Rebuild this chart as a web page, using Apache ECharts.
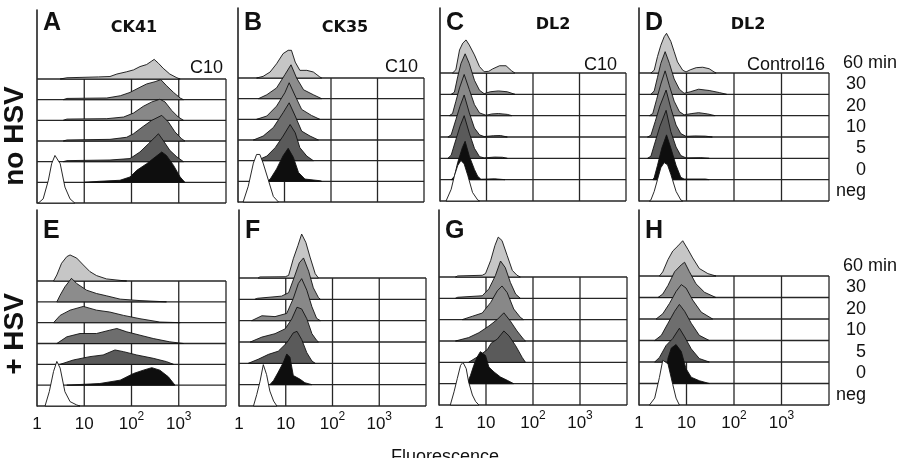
<!DOCTYPE html>
<html>
<head>
<meta charset="utf-8">
<title>Fluorescence histograms</title>
<script src="https://cdn.jsdelivr.net/npm/echarts@6/dist/echarts.min.js"></script>
<style>
  html, body { margin: 0; padding: 0; background: #fff; }
  #main { width: 904px; height: 458px; }
</style>
</head>
<body>
<div id="main"></div>
<script>
// labels
var rowLabels = ['60 min', '30', '20', '10', '5', '0', 'neg'];
var decadeTicks = [1, 10, 100, 1000, 10000];
var tickLabels = ['1', '10', '10{sup|2}', '10{sup|3}', ''];
var panelLetters = ['A', 'B', 'C', 'D', 'E', 'F', 'G', 'H'];
var panelTitles = ['CK41', 'CK35', 'DL2', 'DL2'];
var cornerLabels = ['C10', 'C10', 'C10', 'Control16'];
var sideLabels = ['no HSV', '+ HSV'];

// histograms: [fluorescence, height in row units], rows 60,30,20,10,5,0,neg
var a60 = [[3.1,0],[4.3,0.06],[20,0.1],[35,0.12],[49,0.24],[79,0.35],[110,0.44],[151,0.6],[209,0.7],[269,0.87],[302,0.95],[372,0.76],[468,0.52],[646,0.24],[912,0.06],[1070,0]];
var a30 = [[3.6,0],[4.3,0.06],[30,0.08],[58,0.19],[93,0.35],[151,0.6],[209,0.76],[316,0.87],[417,0.97],[550,0.68],[776,0.35],[1070,0.08],[1260,0]];
var a20 = [[3.6,0],[4.3,0.06],[30,0.08],[68,0.16],[110,0.35],[178,0.68],[269,0.89],[398,1.02],[513,0.89],[708,0.48],[977,0.16],[1260,0]];
var a10 = [[3.6,0],[4.3,0.05],[35,0.08],[79,0.18],[110,0.35],[178,0.71],[269,1.0],[437,1.24],[603,0.92],[832,0.44],[1148,0.11],[1350,0]];
var a5 = [[3.6,0],[4.3,0.05],[35,0.08],[93,0.15],[151,0.47],[229,0.87],[316,1.19],[372,1.35],[468,1.03],[646,0.55],[912,0.23],[1260,0]];
var a0 = [[10,0],[21,0.05],[57,0.1],[93,0.26],[129,0.58],[209,0.9],[316,1.22],[437,1.47],[550,1.3],[776,0.82],[1070,0.26],[1350,0]];
var aNeg = [[1.07,0],[1.35,0.2],[1.74,1.1],[2.04,1.9],[2.4,2.3],[3.1,1.9],[3.9,0.77],[5.0,0.2],[6.3,0]];

var b60 = [[2.51,0],[3.47,0.08],[4.9,0.29],[6.76,0.69],[9.33,1.18],[12,1.34],[14.1,1.34],[17,0.77],[21.4,0.37],[30.2,0.37],[41.7,0.29],[57.5,0.05],[63,0]];
var b30 = [[2.75,0],[4.17,0.19],[6.76,0.52],[10.2,1.16],[13.8,1.64],[18.2,1.0],[25.7,0.43],[41.7,0.19],[63,0]];
var b20 = [[2.51,0],[4.17,0.16],[6.76,0.64],[10.2,1.29],[12.6,1.77],[17,1.13],[23.4,0.48],[38,0.19],[57.5,0]];
var b10 = [[2.14,0],[3.47,0.19],[5.75,0.6],[9.33,1.32],[12.6,1.8],[17,1.16],[23.4,0.43],[35.5,0.19],[53.7,0]];
var b5 = [[2.51,0],[4.17,0.22],[6.31,0.63],[9.33,1.19],[13.2,1.75],[17,1.35],[21.4,0.63],[30.2,0.22],[41.7,0]];
var b0 = [[4.17,0],[4.9,0.1],[6.76,0.6],[9.33,1.24],[12,1.6],[15.5,1.16],[20,0.43],[27.5,0.11],[57.5,0.03],[63,0]];
var bNeg = [[1.29,0],[1.66,0.76],[2.14,1.88],[2.51,2.3],[2.95,2.3],[3.47,1.88],[4.47,1.08],[5.75,0.27],[7.41,0]];

var c60 = [[1.86,0],[2.19,0.15],[2.63,1.08],[3.09,1.4],[3.63,1.55],[4.27,1.31],[5.5,0.85],[7.08,0.3],[8.91,0.06],[11.2,0.08],[13.5,0.19],[19.1,0.34],[26.3,0.34],[34.7,0.1],[40.7,0]];
var c30 = [[1.74,0],[2.04,0.1],[2.4,0.82],[2.82,1.44],[3.47,1.9],[4.27,1.44],[5.5,0.66],[7.08,0.19],[8.91,0.03],[12,0.12],[18,0.16],[28,0.12],[41,0]];
var c20 = [[1.58,0],[1.86,0.1],[2.19,0.67],[2.63,1.3],[3.31,1.93],[4.27,1.22],[5.5,0.52],[7.08,0.13],[9.77,0.02],[13,0.08],[18,0.1],[28,0.06],[35,0]];
var c10 = [[1.48,0],[1.74,0.1],[2.19,0.81],[2.69,1.44],[3.31,1.97],[4.27,1.13],[5.5,0.42],[7.08,0.1],[8.91,0.02],[14,0.06],[20,0.07],[28,0]];
var c5 = [[1.48,0],[1.74,0.15],[2.19,0.87],[2.69,1.5],[3.31,2.0],[4.27,1.18],[5.5,0.47],[7.08,0.08],[8.91,0.02],[15,0.06],[22,0.05],[28,0]];
var c0 = [[1.74,0],[2.04,0.15],[2.4,0.8],[3.02,1.5],[3.47,1.8],[4.27,1.1],[5.5,0.48],[6.46,0.16],[7.59,0.02],[15,0.04],[25,0]];
var cNeg = [[1.35,0],[1.74,0.55],[2.04,1.18],[2.4,1.66],[2.82,1.9],[3.31,1.74],[3.98,1.18],[5.01,0.4],[6.46,0.05],[7.08,0]];

var d60 = [[1.78,0],[2.09,0.13],[2.45,0.77],[2.88,1.3],[3.39,1.7],[3.8,1.86],[4.68,1.48],[5.5,1.0],[6.46,0.52],[8.32,0.13],[9.77,0.05],[12,0.15],[16,0.25],[22,0.27],[30,0.2],[38,0.05],[42,0]];
var d30 = [[1.78,0],[2.09,0.16],[2.45,0.8],[2.88,1.45],[3.55,2.0],[4.37,1.45],[5.5,0.72],[7.08,0.24],[8.91,0.05],[12,0.12],[18,0.24],[30,0.18],[50,0.08],[70,0]];
var d20 = [[1.66,0],[1.95,0.1],[2.34,0.75],[2.88,1.48],[3.55,2.1],[4.37,1.4],[5.5,0.68],[7.08,0.19],[8.91,0.04],[13,0.1],[18,0.14],[28,0.08],[40,0]];
var d10 = [[1.51,0],[1.78,0.08],[2.19,0.72],[2.75,1.45],[3.72,2.2],[4.68,1.35],[6.03,0.56],[7.59,0.16],[9.77,0.03],[15,0.05],[25,0.04],[35,0]];
var d5 = [[1.51,0],[1.78,0.1],[2.19,0.77],[2.75,1.5],[3.72,2.25],[4.68,1.25],[6.03,0.53],[7.59,0.13],[9.77,0.02],[20,0.03],[30,0]];
var d0 = [[1.95,0],[2.09,0.1],[2.45,0.67],[3.02,1.48],[3.8,2.1],[4.68,1.48],[6.03,0.67],[7.59,0.11],[8.91,0.03],[25,0.03],[30,0]];
var dNeg = [[1.66,0],[1.78,0.05],[2.09,0.45],[2.45,1.0],[2.88,1.56],[3.39,1.8],[3.98,1.7],[4.68,1.25],[6.03,0.45],[7.59,0.05],[8.32,0]];

var e60 = [[2.24,0],[2.63,0.29],[3.31,0.85],[4.27,1.17],[5.01,1.25],[6.92,1.1],[9.55,0.77],[13.2,0.45],[18.2,0.26],[29.5,0.1],[57.5,0.03],[79,0]];
var e30 = [[2.63,0],[3.09,0.32],[3.89,0.72],[5.37,1.13],[6.92,0.88],[11.2,0.56],[18.2,0.4],[29.5,0.29],[57.5,0.13],[151,0.06],[550,0]];
var e20 = [[2.24,0],[3.09,0.35],[5.01,0.6],[9.55,0.78],[18.2,0.6],[34.7,0.51],[67.6,0.35],[151,0.19],[398,0.03],[1070,0]];
var e10 = [[2.63,0],[4.27,0.32],[8.13,0.48],[18.2,0.48],[34.7,0.64],[49,0.72],[79.4,0.56],[151,0.4],[288,0.24],[646,0.08],[1260,0]];
var e5 = [[3.09,0],[5.89,0.21],[13.2,0.37],[25.1,0.45],[44.7,0.69],[67.6,0.61],[129,0.45],[288,0.29],[550,0.13],[776,0]];
var e0 = [[4.27,0],[21.4,0.08],[57.5,0.24],[110,0.56],[178,0.72],[269,0.84],[398,0.72],[603,0.4],[832,0]];
var eNeg = [[1.48,0],[1.82,0.69],[2.24,1.66],[2.63,2.14],[3.09,1.82],[3.89,0.69],[5.01,0.21],[6.92,0.05],[8.13,0]];

var f60 = [[2.57,0],[2.8,0.05],[9.77,0.06],[11.5,0.12],[14.5,0.9],[18.2,1.52],[21.9,2.06],[26.9,1.67],[33.1,0.98],[42.7,0.2],[50.1,0]];
var f30 = [[2.19,0],[2.5,0.05],[8.13,0.15],[11.5,0.31],[15.5,1.09],[19.5,1.71],[24,1.94],[30.9,1.32],[38.9,0.54],[50.1,0.08],[55,0]];
var f20 = [[1.86,0],[3.09,0.23],[5.89,0.19],[10.5,0.34],[14.5,1.04],[18.6,1.74],[21.9,1.97],[28.2,1.43],[36.3,0.65],[45.7,0.11],[55,0]];
var f10 = [[1.74,0],[3.09,0.23],[5.89,0.39],[9.77,0.62],[13.5,1.09],[17.4,1.63],[21.9,1.55],[28.2,1.09],[36.3,0.39],[45.7,0.08],[50.1,0]];
var f5 = [[1.58,0],[2.57,0.19],[4.27,0.42],[6.92,0.57],[10.5,0.96],[14.5,1.43],[17.4,1.5],[21.9,1.12],[28.2,0.5],[36.3,0.11],[42.7,0]];
var f0 = [[4.57,0],[5.5,0.2],[6.92,0.59],[8.91,1.05],[10.5,1.44],[12.3,1.29],[14.5,0.43],[20.4,0.25],[25.7,0.09],[36.3,0]];
var fNeg = [[2.04,0],[2.4,0.54],[2.82,1.16],[3.31,1.94],[3.89,1.47],[4.57,0.7],[5.5,0.23],[6.46,0]];

var g60 = [[2.24,0],[2.5,0.05],[8.32,0.08],[9.77,0.16],[12.6,0.78],[15.5,1.48],[18.2,1.87],[21.9,1.71],[28.2,1.01],[36.3,0.31],[45.7,0.08],[53.7,0]];
var g30 = [[2.24,0],[2.5,0.05],[8.32,0.12],[11.5,0.44],[15.8,1.06],[20.4,1.75],[25.7,1.44],[33.1,0.74],[42.7,0.2],[53.7,0]];
var g20 = [[3.09,0],[5.13,0.16],[8.32,0.31],[12.6,0.81],[17.4,1.35],[21.9,1.58],[28.2,1.27],[38.9,0.5],[53.7,0.11],[63.1,0]];
var g10 = [[2.24,0],[4.27,0.16],[7.08,0.39],[11.5,0.7],[17.4,1.01],[24,1.32],[33.1,0.93],[45.7,0.47],[63.1,0.08],[69.2,0]];
var g5 = [[4.27,0],[7.08,0.3],[10.7,0.6],[12.9,0.9],[17.4,1.09],[24,1.47],[30.9,1.24],[42.7,0.78],[58.9,0.23],[69.2,0]];
var g0 = [[3.98,0],[4.68,0.39],[5.5,0.86],[6.46,1.24],[7.59,1.5],[9.77,1.32],[11.5,0.78],[14.8,0.55],[20.4,0.31],[28.2,0.16],[38.9,0]];
var gNeg = [[1.74,0],[2.09,0.62],[2.45,1.24],[2.88,1.86],[3.24,2.0],[3.8,1.7],[4.27,1.08],[5.13,0.47],[6.03,0.16],[7.08,0]];

var h60 = [[2.69,0],[3.16,0.19],[4.07,0.76],[5.13,1.16],[6.61,1.4],[8.32,1.64],[10.7,1.24],[13.5,0.84],[18.6,0.35],[28.2,0.11],[41.7,0]];
var h30 = [[2.51,0],[3.16,0.16],[4.07,0.56],[5.62,1.2],[7.76,1.52],[9.12,1.64],[11.5,1.2],[15.8,0.64],[24,0.24],[41.7,0]];
var h20 = [[2.29,0],[3.16,0.24],[4.37,0.72],[6.03,1.28],[7.76,1.6],[9.77,1.44],[13.5,0.88],[20.4,0.32],[35.5,0]];
var h10 = [[2.14,0],[2.95,0.24],[4.07,0.8],[5.62,1.36],[7.08,1.68],[9.12,1.36],[12.6,0.8],[18.6,0.24],[30.2,0]];
var h5 = [[2.14,0],[2.69,0.21],[3.72,0.77],[5.13,1.09],[7.08,1.57],[9.12,1.17],[12.6,0.61],[18.6,0.16],[30.2,0]];
var h0 = [[3.63,0],[4.07,1.17],[4.79,1.65],[6.03,1.81],[7.76,1.49],[9.77,0.69],[12.6,0.29],[18.6,0.13],[30.2,0]];
var hNeg = [[1.66,0],[2.14,0.32],[2.69,1.28],[3.16,2.08],[4.07,1.92],[5.13,0.96],[6.03,0.32],[7.08,0]];

var panels = [
    [a60, a30, a20, a10, a5, a0, aNeg],
    [b60, b30, b20, b10, b5, b0, bNeg],
    [c60, c30, c20, c10, c5, c0, cNeg],
    [d60, d30, d20, d10, d5, d0, dNeg],
    [e60, e30, e20, e10, e5, e0, eNeg],
    [f60, f30, f20, f10, f5, f0, fNeg],
    [g60, g30, g20, g10, g5, g0, gNeg],
    [h60, h30, h20, h10, h5, h0, hNeg]
];

// panel boxes in px: left, right, top of box, bottom of box, top of left line
var layout = [
    [37, 226, 79, 203, 10], [238, 424, 78, 202, 8], [440, 626, 73, 201, 8], [639, 829, 73, 201, 8],
    [37, 226, 281, 406, 210], [239, 426, 278, 406, 210], [439, 627, 277, 405, 210], [639, 829, 276, 405, 210]
];
var fillColors = ['#c6c6c6', '#8c8c8c', '#888888', '#6e6e6e', '#5a5a5a', '#0e0e0e', '#ffffff'];
var FONT = '"Liberation Sans", Arial, sans-serif';

var myChart = echarts.init(document.getElementById('main'));
var grids = [], xAxes = [], yAxes = [], series = [], graphics = [];

layout.forEach(function (L, p) {
    var unit = (L[3] - L[2]) / 6;
    var bottomRow = p >= 4;
    grids.push({ left: L[0], top: L[4], width: L[1] - L[0], height: L[3] - L[4], containLabel: false, outerBoundsMode: 'none' });
    xAxes.push({
        gridIndex: p, type: 'log', logBase: 10, min: 1, max: 10000,
        axisLine: { show: false }, axisTick: { show: false }, splitLine: { show: false },
        axisLabel: {
            show: bottomRow, margin: 5, color: '#111', fontFamily: FONT, fontSize: 17, lineHeight: 26,
            formatter: function (v) {
                var i = decadeTicks.indexOf(Math.round(v));
                return i < 0 ? '' : tickLabels[i];
            },
            rich: { sup: { fontSize: 12, lineHeight: 14, verticalAlign: 'top', fontFamily: FONT, color: '#111' } }
        }
    });
    yAxes.push({
        gridIndex: p, type: 'value', min: 0, max: (L[3] - L[4]) / unit,
        axisLine: { show: true, lineStyle: { color: '#222', width: 1.6 } },
        axisTick: { show: false }, axisLabel: { show: false }, splitLine: { show: false }
    });

    // box: one row line per histogram baseline, one vertical line per decade
    var segs = [];
    for (var r = 0; r < rowLabels.length; r++) segs.push([1, r, 10000, r]);
    decadeTicks.slice(1).forEach(function (d) { segs.push([d, 0, d, rowLabels.length - 1]); });
    series.push({
        type: 'custom', xAxisIndex: p, yAxisIndex: p, silent: true, data: segs,
        renderItem: function (params, api) {
            var s = api.coord([api.value(0), api.value(1)]);
            var e = api.coord([api.value(2), api.value(3)]);
            return { type: 'line', shape: { x1: s[0], y1: s[1], x2: e[0], y2: e[1] }, style: { stroke: '#262626', lineWidth: 1.3 } };
        }
    });

    // histograms, back (60 min) to front (neg)
    panels[p].forEach(function (curve, k) {
        var base = rowLabels.length - 1 - k;
        series.push({
            type: 'custom', xAxisIndex: p, yAxisIndex: p, silent: true,
            data: [[curve[0][0], base]],
            renderItem: function (params, api) {
                var pts = [api.coord([curve[0][0], base])];
                curve.forEach(function (pt) { pts.push(api.coord([pt[0], base + pt[1]])); });
                pts.push(api.coord([curve[curve.length - 1][0], base]));
                return { type: 'polygon', shape: { points: pts }, style: { fill: fillColors[k], stroke: '#111', lineWidth: 0.9 } };
            }
        });
    });

    // panel letter
    graphics.push({ type: 'text', x: L[0] + 6, y: bottomRow ? 231 : 23,
        style: { text: panelLetters[p], font: 'bold 25px ' + FONT, fill: '#111', textAlign: 'left', textVerticalAlign: 'middle', align: 'left', verticalAlign: 'middle' } });
});

// titles and clone labels of the top row
var titleX = [134, 345, 553, 748], titleY = [28, 28, 25, 25];
var cornerX = [223, 418, 617, 825], cornerY = [68, 67, 65, 65];
panelTitles.forEach(function (t, i) {
    graphics.push({ type: 'text', x: titleX[i], y: titleY[i],
        style: { text: t, font: 'bold 16px "DejaVu Sans", sans-serif', fill: '#111', textAlign: 'center', textVerticalAlign: 'middle', align: 'center', verticalAlign: 'middle' } });
    graphics.push({ type: 'text', x: cornerX[i], y: cornerY[i],
        style: { text: cornerLabels[i], font: '18px ' + FONT, fill: '#111', textAlign: 'right', textVerticalAlign: 'middle', align: 'right', verticalAlign: 'middle' } });
});

// time labels at the right of D and H
[layout[3], layout[7]].forEach(function (L) {
    var unit = (L[3] - L[2]) / 6;
    rowLabels.forEach(function (lab, k) {
        var y = L[3] - (rowLabels.length - 1 - k) * unit - 10;
        var first = k === 0;
        graphics.push({ type: 'text', x: first ? 843 : 866, y: y,
            style: { text: lab, font: '18px ' + FONT, fill: '#111',
                textAlign: first ? 'left' : 'right', textVerticalAlign: 'middle', align: first ? 'left' : 'right', verticalAlign: 'middle' } });
    });
});

// row headings and axis title
graphics.push({ type: 'text', x: 15, y: 136, rotation: Math.PI / 2,
    style: { text: sideLabels[0], font: 'bold 28px ' + FONT, fill: '#111', textAlign: 'center', textVerticalAlign: 'middle', align: 'center', verticalAlign: 'middle' } });
graphics.push({ type: 'text', x: 15, y: 334, rotation: Math.PI / 2,
    style: { text: sideLabels[1], font: 'bold 28px ' + FONT, fill: '#111', textAlign: 'center', textVerticalAlign: 'middle', align: 'center', verticalAlign: 'middle' } });
graphics.push({ type: 'text', x: 445, y: 457,
    style: { text: 'Fluorescence', font: '18px ' + FONT, fill: '#111', textAlign: 'center', textVerticalAlign: 'middle', align: 'center', verticalAlign: 'middle' } });

myChart.setOption({
    animation: false,
    backgroundColor: '#fff',
    grid: grids,
    xAxis: xAxes,
    yAxis: yAxes,
    series: series,
    graphic: { elements: graphics }
});
</script>
</body>
</html>
